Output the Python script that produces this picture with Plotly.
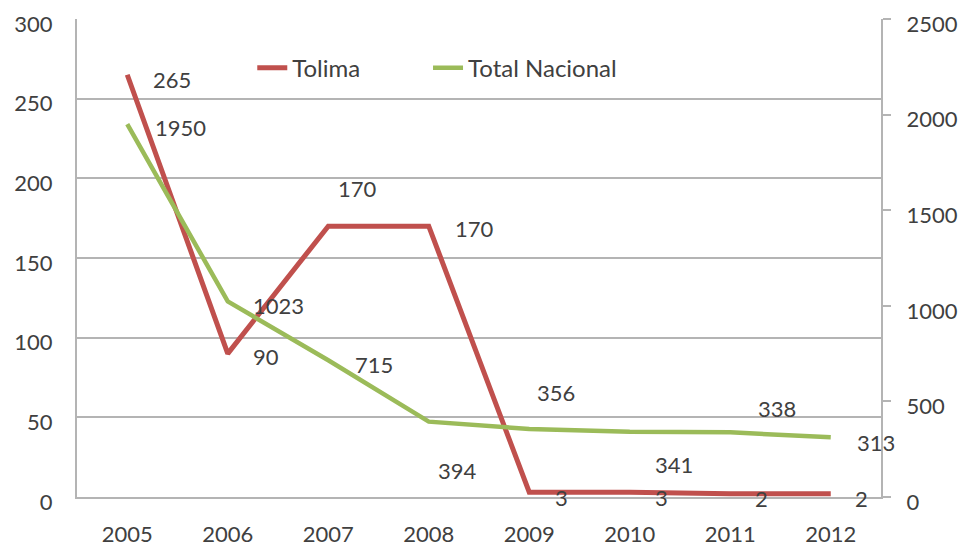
import plotly.graph_objects as go

years = [2005, 2006, 2007, 2008, 2009, 2010, 2011, 2012]
tolima = [265, 90, 170, 170, 3, 3, 2, 2]
total_nacional = [1950, 1023, 715, 394, 356, 341, 338, 313]

# label offsets (pixels, dx right, dy down) - styling only
tolima_off = [(45, 5), (38, 3), (29, -38), (46, 2), (32, 5), (32, 5), (31, 5), (31, 5)]
total_off = [(53, 3), (51, 4), (46, 4), (29, 49), (27, -36), (44, 33), (47, -24), (45, 5)]

FONT = "Lato"
TXT = "#404040"
GRID = "#b4b4b4"
RED = "#C0504D"
GREEN = "#9BBB59"
FS = 22

fig = go.Figure()
fig.add_trace(go.Scatter(x=years, y=tolima, name="Tolima", mode="lines",
                         line=dict(color=RED, width=5), yaxis="y", legend="legend"))
fig.add_trace(go.Scatter(x=years, y=total_nacional, name="Total Nacional", mode="lines",
                         line=dict(color=GREEN, width=4.5), yaxis="y2", legend="legend2"))

for x, v, (dx, dy) in zip(years, tolima, tolima_off):
    fig.add_annotation(x=x, y=v, xref="x", yref="y", text=str(v), showarrow=False,
                       xshift=dx, yshift=-dy,
                       font=dict(family=FONT, size=FS, color=TXT))
for x, v, (dx, dy) in zip(years, total_nacional, total_off):
    fig.add_annotation(x=x, y=v, xref="x", yref="y2", text=str(v), showarrow=False,
                       xshift=dx, yshift=-dy,
                       font=dict(family=FONT, size=FS, color=TXT))

legend_style = dict(orientation="h", xanchor="left", y=0.897, yanchor="middle",
                    bgcolor="rgba(0,0,0,0)", font=dict(family=FONT, size=24, color=TXT))

fig.update_layout(
    width=963, height=546,
    margin=dict(l=77, r=82, t=19, b=49, autoexpand=False),
    paper_bgcolor="white", plot_bgcolor="white",
    font=dict(family=FONT, size=FS, color=TXT),
    showlegend=True,
    legend=dict(x=0.218, **legend_style),
    legend2=dict(x=0.4366, **legend_style),
    xaxis=dict(range=[years[0] - 0.5, years[-1] + 0.5], tickvals=years,
               showline=True, linecolor=GRID,
               linewidth=2, showgrid=False, ticks="", automargin=False,
               ticklabelstandoff=17, zeroline=False,
               tickfont=dict(family=FONT, size=FS, color=TXT)),
    yaxis=dict(range=[0, 300], tickvals=[0, 50, 100, 150, 200, 250, 300],
               showgrid=True, gridcolor=GRID, gridwidth=2, showline=True,
               linecolor=GRID, linewidth=2, ticks="", automargin=False,
               ticklabelstandoff=18, ticklabelshift=5, zeroline=False,
               tickfont=dict(family=FONT, size=FS, color=TXT)),
    yaxis2=dict(range=[0, 2500], tickvals=[0, 500, 1000, 1500, 2000, 2500],
                overlaying="y", side="right", showgrid=False, showline=True,
                linecolor=GRID, linewidth=2, ticks="outside", ticklen=8,
                tickcolor=GRID, tickwidth=2, automargin=False,
                ticklabelstandoff=11, ticklabelshift=5, zeroline=False,
                tickfont=dict(family=FONT, size=FS, color=TXT)),
)

fig.write_html("out.html", config={"displayModeBar": False},
               post_script="document.body.style.margin='0';")
